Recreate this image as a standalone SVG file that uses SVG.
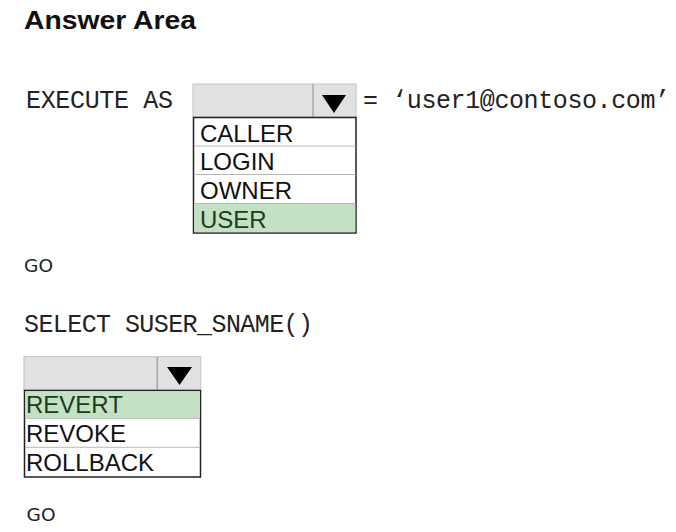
<svg xmlns="http://www.w3.org/2000/svg" width="676" height="532" viewBox="0 0 676 532">
  <style>
    .title { font-family: "Liberation Sans", Arial, sans-serif; font-weight: bold; font-size: 26px; fill: #111; }
    .code { font-family: "Liberation Mono", "Courier New", monospace; font-size: 25px; fill: #222; }
    .go { font-family: "DejaVu Sans", Verdana, sans-serif; font-size: 17px; fill: #222; }
    .opt { font-family: "Liberation Sans", Arial, sans-serif; font-size: 24px; fill: #111; }
    .sel { fill: #1f3a1f; }
    .hdr { fill: #e1e1e1; stroke: #c9c9c9; stroke-width: 1.2; }
    .div { stroke: #a8a8a8; stroke-width: 1.5; }
    .arrow { fill: #000; }
    .list { fill: #fff; stroke: #222; stroke-width: 1.5; }
    .green { fill: #c3e1c3; }
    .sep { stroke: #b8b8b8; stroke-width: 1; }
  </style>
  <rect width="676" height="532" fill="#fff"/>
  <text class="title" x="24" y="29.3" textLength="172" lengthAdjust="spacingAndGlyphs">Answer Area</text>

  <g id="line-execute">
    <text class="code" x="26" y="108.3" textLength="147" lengthAdjust="spacing">EXECUTE AS</text>
    <text class="code" x="363" y="108.3" textLength="307" lengthAdjust="spacing">= ‘user1@contoso.com’</text>
  </g>

  <g id="dropdown-execute">
    <rect class="hdr" x="193" y="84" width="163" height="33"/>
    <line class="div" x1="313" y1="84" x2="313" y2="117"/>
    <polygon class="arrow" points="322,95 346,95 334,113"/>
    <rect class="list" x="193.5" y="117.5" width="162.5" height="115.5"/>
    <rect class="green" x="194.3" y="203.5" width="161" height="28.7"/>
    <line class="sep" x1="194" y1="146" x2="355.5" y2="146"/>
    <line class="sep" x1="194" y1="174.5" x2="355.5" y2="174.5"/>
    <line class="sep" x1="194" y1="203.5" x2="355.5" y2="203.5"/>
    <text class="opt" x="200" y="141.7">CALLER</text>
    <text class="opt" x="200" y="170.3">LOGIN</text>
    <text class="opt" x="200" y="199.3">OWNER</text>
    <text class="opt sel" x="200" y="228.3">USER</text>
  </g>

  <g id="go-1">
    <text class="go" x="24" y="272" textLength="29" lengthAdjust="spacingAndGlyphs">GO</text>
  </g>

  <g id="line-select">
    <text class="code" x="24" y="331.7" textLength="289" lengthAdjust="spacing">SELECT SUSER_SNAME()</text>
  </g>

  <g id="dropdown-revert">
    <rect class="hdr" x="24" y="356.7" width="176.7" height="33.3"/>
    <line class="div" x1="157.3" y1="356.7" x2="157.3" y2="390"/>
    <polygon class="arrow" points="167,367 192,367 179.5,385"/>
    <rect class="list" x="24.5" y="390.5" width="176" height="86.5"/>
    <rect class="green" x="25.3" y="391.3" width="174.4" height="27"/>
    <line class="sep" x1="25" y1="418.3" x2="200" y2="418.3"/>
    <line class="sep" x1="25" y1="447.3" x2="200" y2="447.3"/>
    <text class="opt sel" x="26" y="412.7">REVERT</text>
    <text class="opt" x="26" y="441.6">REVOKE</text>
    <text class="opt" x="26" y="470.6">ROLLBACK</text>
  </g>

  <g id="go-2">
    <text class="go" x="26.5" y="520.7" textLength="29" lengthAdjust="spacingAndGlyphs">GO</text>
  </g>

  <g id="connectors"></g>
</svg>
